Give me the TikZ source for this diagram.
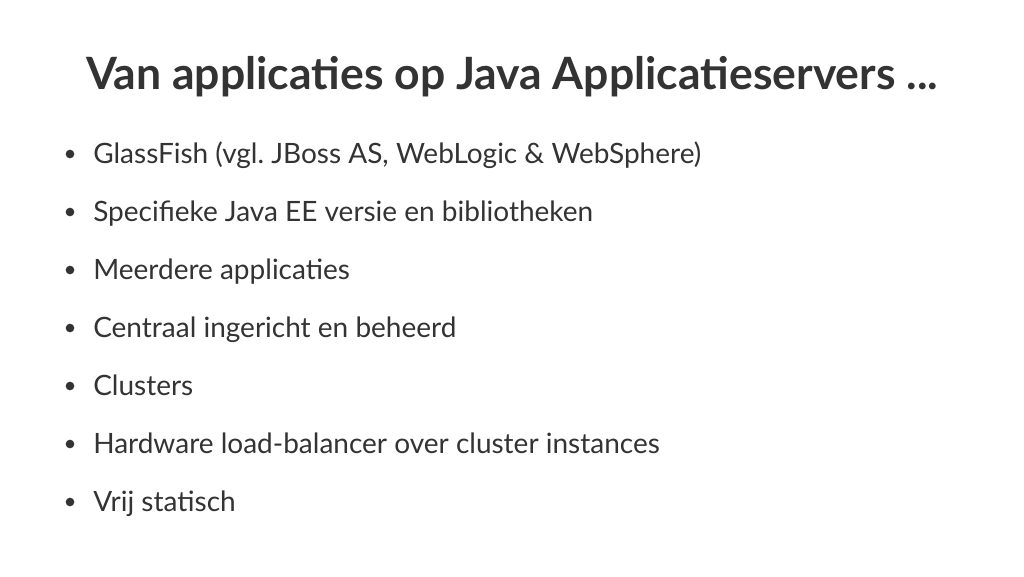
\documentclass[tikz,border=0pt]{standalone}
\usepackage{fontspec}
\setmainfont{Lato}
\frenchspacing
\usetikzlibrary{positioning}
\definecolor{slidetext}{HTML}{333333}
\tikzset{
  slidetitle/.style={
    anchor=base, inner sep=0pt, text=slidetext,
    font=\fontsize{33.4pt}{40pt}\selectfont\bfseries,
  },
  bulletitem/.style={
    anchor=base west, inner sep=0pt, text=slidetext,
    font=\fontsize{21pt}{25pt}\selectfont,
  },
  bulletdot/.style={
    circle, fill=slidetext, inner sep=0pt, minimum size=6.5pt,
  },
}
\begin{document}
\begin{tikzpicture}[x=0.75pt, y=-0.75pt]
\useasboundingbox[fill=white] (0,0) rectangle (1024,576);
\node [slidetitle] (title) at (512,89) {Van applicaties op Java Applicatieservers ...};
\foreach \txt [count=\i] in {
  {GlassFish (vgl. JBoss AS, WebLogic \& WebSphere)},
  {Specifieke Java EE versie en bibliotheken},
  {Meerdere applicaties},
  {Centraal ingericht en beheerd},
  {Clusters},
  {Hardware load-balancer over cluster instances},
  {Vrij statisch}}
{
  \node [bulletitem] (item\i) at (93,{163+58*(\i-1)}) {\txt};
  \node [bulletdot] (dot\i) at (70,{154+58*(\i-1)}) {};
}
\end{tikzpicture}
\end{document}
